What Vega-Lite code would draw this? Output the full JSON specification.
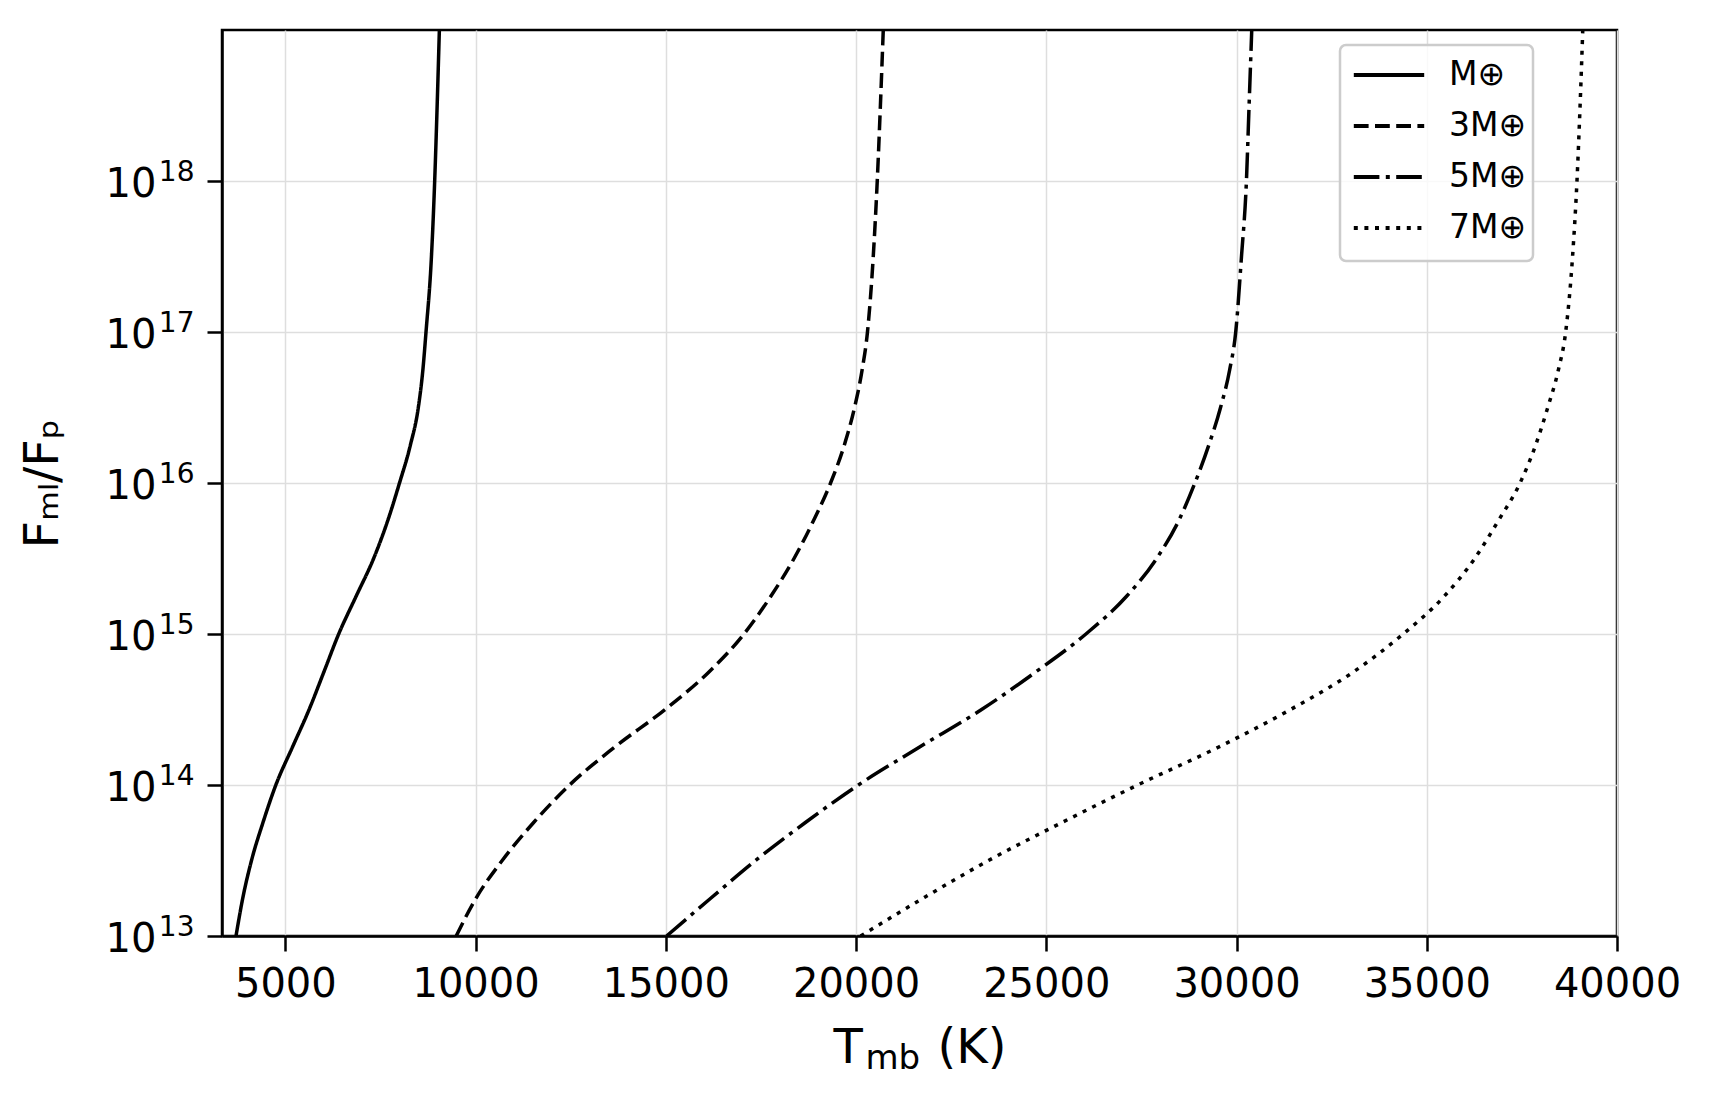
{
  "$schema": "https://vega.github.io/schema/vega-lite/v6.json",
  "width": 1395,
  "height": 906,
  "autosize": {"type": "none"},
  "padding": {"left": 222, "top": 30, "right": 96, "bottom": 166},
  "background": "white",
  "config": {
    "font": "DejaVu Sans",
    "view": {"stroke": "black", "strokeWidth": 2.5},
    "axis": {
      "labelFont": "DejaVu Sans",
      "labelFontSize": 40,
      "labelColor": "black",
      "labelFlush": false,
      "labelOverlap": false,
      "titleFont": "DejaVu Sans",
      "titleFontSize": 48,
      "titleFontWeight": "normal",
      "titleColor": "black",
      "domainColor": "black",
      "domainWidth": 2.5,
      "tickColor": "black",
      "tickWidth": 2.5,
      "tickSize": 15,
      "gridColor": "#dedede",
      "gridWidth": 1.5
    }
  },
  "data": {
    "values": [
      {"T": 3703, "F": 1e13, "s": "M⊕"},
      {"T": 3880, "F": 1.778e13, "s": "M⊕"},
      {"T": 4110, "F": 3.162e13, "s": "M⊕"},
      {"T": 4410, "F": 5.623e13, "s": "M⊕"},
      {"T": 4750, "F": 1e14, "s": "M⊕"},
      {"T": 5185, "F": 1.778e14, "s": "M⊕"},
      {"T": 5625, "F": 3.162e14, "s": "M⊕"},
      {"T": 6015, "F": 5.623e14, "s": "M⊕"},
      {"T": 6402, "F": 1e15, "s": "M⊕"},
      {"T": 6860, "F": 1.778e15, "s": "M⊕"},
      {"T": 7320, "F": 3.162e15, "s": "M⊕"},
      {"T": 7690, "F": 5.623e15, "s": "M⊕"},
      {"T": 8000, "F": 1e16, "s": "M⊕"},
      {"T": 8285, "F": 1.778e16, "s": "M⊕"},
      {"T": 8495, "F": 3.162e16, "s": "M⊕"},
      {"T": 8615, "F": 5.623e16, "s": "M⊕"},
      {"T": 8697, "F": 1e17, "s": "M⊕"},
      {"T": 8840, "F": 3.162e17, "s": "M⊕"},
      {"T": 8925, "F": 1e18, "s": "M⊕"},
      {"T": 8990, "F": 3.162e18, "s": "M⊕"},
      {"T": 9048, "F": 1e19, "s": "M⊕"},
      {"T": 9490, "F": 1e13, "s": "3M⊕"},
      {"T": 10010, "F": 1.778e13, "s": "3M⊕"},
      {"T": 10700, "F": 3.162e13, "s": "3M⊕"},
      {"T": 11520, "F": 5.623e13, "s": "3M⊕"},
      {"T": 12470, "F": 1e14, "s": "3M⊕"},
      {"T": 13650, "F": 1.778e14, "s": "3M⊕"},
      {"T": 14980, "F": 3.162e14, "s": "3M⊕"},
      {"T": 16140, "F": 5.623e14, "s": "3M⊕"},
      {"T": 17053, "F": 1e15, "s": "3M⊕"},
      {"T": 17760, "F": 1.778e15, "s": "3M⊕"},
      {"T": 18370, "F": 3.162e15, "s": "3M⊕"},
      {"T": 18880, "F": 5.623e15, "s": "3M⊕"},
      {"T": 19330, "F": 1e16, "s": "3M⊕"},
      {"T": 19690, "F": 1.778e16, "s": "3M⊕"},
      {"T": 19960, "F": 3.162e16, "s": "3M⊕"},
      {"T": 20160, "F": 5.623e16, "s": "3M⊕"},
      {"T": 20300, "F": 1e17, "s": "3M⊕"},
      {"T": 20452, "F": 3.162e17, "s": "3M⊕"},
      {"T": 20557, "F": 1e18, "s": "3M⊕"},
      {"T": 20640, "F": 3.162e18, "s": "3M⊕"},
      {"T": 20715, "F": 1e19, "s": "3M⊕"},
      {"T": 15020, "F": 1e13, "s": "5M⊕"},
      {"T": 16180, "F": 1.778e13, "s": "5M⊕"},
      {"T": 17360, "F": 3.162e13, "s": "5M⊕"},
      {"T": 18660, "F": 5.623e13, "s": "5M⊕"},
      {"T": 20060, "F": 1e14, "s": "5M⊕"},
      {"T": 21660, "F": 1.778e14, "s": "5M⊕"},
      {"T": 23300, "F": 3.162e14, "s": "5M⊕"},
      {"T": 24730, "F": 5.623e14, "s": "5M⊕"},
      {"T": 26042, "F": 1e15, "s": "5M⊕"},
      {"T": 27110, "F": 1.778e15, "s": "5M⊕"},
      {"T": 27900, "F": 3.162e15, "s": "5M⊕"},
      {"T": 28480, "F": 5.623e15, "s": "5M⊕"},
      {"T": 28906, "F": 1e16, "s": "5M⊕"},
      {"T": 29270, "F": 1.778e16, "s": "5M⊕"},
      {"T": 29580, "F": 3.162e16, "s": "5M⊕"},
      {"T": 29820, "F": 5.623e16, "s": "5M⊕"},
      {"T": 29979, "F": 1e17, "s": "5M⊕"},
      {"T": 30130, "F": 3.162e17, "s": "5M⊕"},
      {"T": 30260, "F": 1e18, "s": "5M⊕"},
      {"T": 30330, "F": 3.162e18, "s": "5M⊕"},
      {"T": 30400, "F": 1e19, "s": "5M⊕"},
      {"T": 20120, "F": 1e13, "s": "7M⊕"},
      {"T": 21760, "F": 1.778e13, "s": "7M⊕"},
      {"T": 23480, "F": 3.162e13, "s": "7M⊕"},
      {"T": 25400, "F": 5.623e13, "s": "7M⊕"},
      {"T": 27400, "F": 1e14, "s": "7M⊕"},
      {"T": 29520, "F": 1.778e14, "s": "7M⊕"},
      {"T": 31420, "F": 3.162e14, "s": "7M⊕"},
      {"T": 33080, "F": 5.623e14, "s": "7M⊕"},
      {"T": 34380, "F": 1e15, "s": "7M⊕"},
      {"T": 35460, "F": 1.778e15, "s": "7M⊕"},
      {"T": 36260, "F": 3.162e15, "s": "7M⊕"},
      {"T": 36880, "F": 5.623e15, "s": "7M⊕"},
      {"T": 37452, "F": 1e16, "s": "7M⊕"},
      {"T": 37860, "F": 1.778e16, "s": "7M⊕"},
      {"T": 38180, "F": 3.162e16, "s": "7M⊕"},
      {"T": 38460, "F": 5.623e16, "s": "7M⊕"},
      {"T": 38651, "F": 1e17, "s": "7M⊕"},
      {"T": 38832, "F": 3.162e17, "s": "7M⊕"},
      {"T": 38948, "F": 1e18, "s": "7M⊕"},
      {"T": 39030, "F": 3.162e18, "s": "7M⊕"},
      {"T": 39100, "F": 1e19, "s": "7M⊕"}
    ]
  },
  "layer": [
    {
      "mark": {"type": "line", "color": "black", "strokeWidth": 3.5, "strokeCap": "butt", "clip": true, "interpolate": "monotone"},
      "encoding": {
        "x": {
          "field": "T",
          "type": "quantitative",
          "scale": {"domain": [3335, 40000], "nice": false, "zero": false},
          "axis": {
            "orient": "bottom",
            "values": [5000, 10000, 15000, 20000, 25000, 30000, 35000, 40000],
            "format": "d",
            "labelPadding": 13,
            "grid": true,
            "title": "T",
            "titleX": 611,
            "titleY": 126,
            "titleAlign": "left",
            "titleBaseline": "alphabetic"
          }
        },
        "y": {
          "field": "F",
          "type": "quantitative",
          "scale": {"type": "log", "domain": [1e13, 1e19], "nice": false},
          "axis": {
            "orient": "left",
            "values": [1e13, 1e14, 1e15, 1e16, 1e17, 1e18],
            "labelExpr": "'10'",
            "labelPadding": 51,
            "labelOffset": 3,
            "grid": true,
            "title": "Fₘₗ/Fₚ",
            "titleX": -179,
            "titleY": 453,
            "titleAngle": 270,
            "titleAlign": "center",
            "titleBaseline": "middle"
          }
        },
        "strokeDash": {
          "field": "s",
          "type": "nominal",
          "scale": {
            "domain": ["M⊕", "3M⊕", "5M⊕", "7M⊕"],
            "range": [[1, 0], [14.8, 6.4], [25.6, 6.4, 4, 6.4], [4, 6.6]]
          },
          "legend": {
            "title": " ",
            "titleOrient": "bottom",
            "titleFontSize": 1,
            "titlePadding": 9,
            "orient": "none",
            "legendX": 1118,
            "legendY": 15,
            "symbolType": "M-1.6,0L1.6,0",
            "symbolSize": 1936,
            "symbolStrokeWidth": 4,
            "symbolStrokeColor": "black",
            "labelFont": "DejaVu Sans",
            "labelFontSize": 33,
            "labelColor": "black",
            "padding": 6,
            "rowPadding": 10,
            "symbolOffset": 19,
            "labelOffset": 36,
            "strokeColor": "#cccccc",
            "fillColor": "rgba(255,255,255,0.8)",
            "cornerRadius": 6,
            "encode": {"legend": {"update": {"strokeWidth": {"value": 2.5}}}}
          }
        }
      }
    },
    {
      "mark": {"type": "line", "opacity": 0},
      "encoding": {
        "detail": {"field": "s", "type": "nominal"},
        "x": {
          "field": "T",
          "type": "quantitative",
          "scale": {"domain": [3335, 40000], "nice": false, "zero": false},
          "axis": {
            "orient": "bottom",
            "labels": false,
            "ticks": false,
            "domain": false,
            "grid": false,
            "title": "mb",
            "titleFontSize": 34,
            "titleX": 643,
            "titleY": 132,
            "titleAlign": "left",
            "titleBaseline": "alphabetic"
          }
        },
        "y": {
          "field": "F",
          "type": "quantitative",
          "scale": {"type": "log", "domain": [1e13, 1e19], "nice": false},
          "axis": {
            "orient": "left",
            "values": [1e13, 1e14, 1e15, 1e16, 1e17, 1e18],
            "labelExpr": "['13','14','15','16','17','18'][round(log(datum.value)/LN10)-13]",
            "labelFontSize": 28,
            "labelPadding": 13,
            "labelOffset": -9,
            "tickOpacity": 0,
            "domain": false,
            "grid": false,
            "title": null
          }
        }
      }
    },
    {
      "mark": {"type": "line", "opacity": 0},
      "encoding": {
        "detail": {"field": "s", "type": "nominal"},
        "x": {
          "field": "T",
          "type": "quantitative",
          "scale": {"domain": [3335, 40000], "nice": false, "zero": false},
          "axis": {
            "orient": "bottom",
            "labels": false,
            "ticks": false,
            "domain": false,
            "grid": false,
            "title": "(K)",
            "titleX": 715,
            "titleY": 126,
            "titleAlign": "left",
            "titleBaseline": "alphabetic"
          }
        },
        "y": {
          "field": "F",
          "type": "quantitative",
          "scale": {"type": "log", "domain": [1e13, 1e19], "nice": false},
          "axis": null
        }
      }
    }
  ],
  "resolve": {
    "scale": {"x": "independent", "y": "independent"},
    "axis": {"x": "independent", "y": "independent"}
  }
}
